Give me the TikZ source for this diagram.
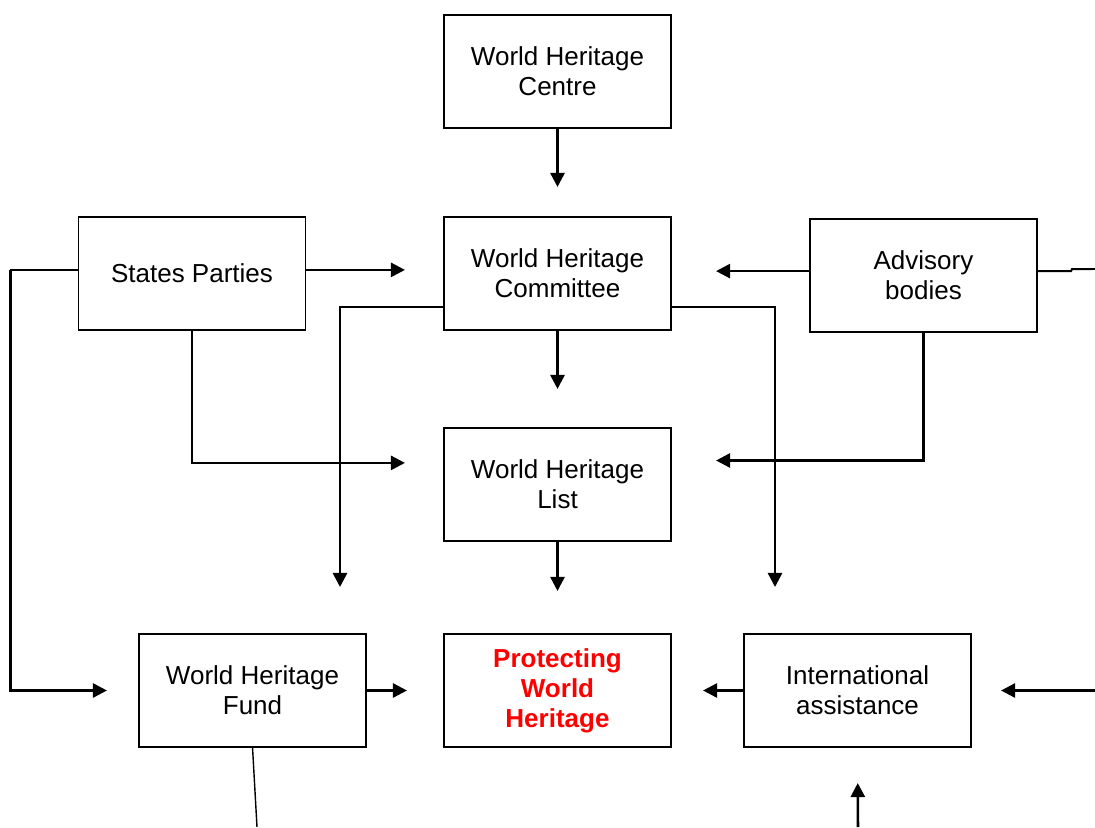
\documentclass[tikz,border=0pt]{standalone}
\usepackage{fontspec}
\setmainfont{Liberation Sans}
\usetikzlibrary{arrows.meta}
\begin{document}
\begin{tikzpicture}[x=0.025cm,y=-0.025cm,
    box/.style = {rectangle,draw=black,line width=1.3pt,minimum width=5.675cm,minimum height=2.825cm,align=center,outer sep=0mm,
                  font=\fontsize{18.5}{21.3}\selectfont},
    arr/.style = {line width=1.8pt,-{Triangle[length=10pt,width=10pt]}},
    link/.style = {line width=1.4pt}]
\useasboundingbox (0,0) rectangle (1095,827);
% boxes
\node[box] (centre) at (557.5, 71.5) {World Heritage\\Centre};
\node[box] (comm)   at (557.5,273.5) {World Heritage\\Committee};
\node[box] (sp)     at (192,  273.5) {States Parties};
\node[box] (adv)    at (923.5,275.5) {Advisory\\bodies};
\node[box] (list)   at (557.5,484.5) {World Heritage\\List};
\node[box] (fund)   at (252.5,690.5) {World Heritage\\Fund};
\node[box] (prot)   at (557.5,690.5) {\color{red}\bfseries Protecting\\\color{red}\bfseries World\\\color{red}\bfseries Heritage};
\node[box] (intl)   at (857.5,690.5) {International\\assistance};
% free ends
\coordinate (fundtip) at (340,587);
\coordinate (intltip) at (775,587);
\coordinate (redge)   at (1095,690.5);
\coordinate (aout)    at (1095,269);
\coordinate (fout)    at (257,827);
\coordinate (bin)     at (858,827);
% connectors
\draw[arr,shorten >=0.75cm]  (centre) -- (comm);
\draw[arr,shorten >=0.975cm] ([yshift=0.09cm]sp.east) -- ([yshift=0.09cm]comm.west);
\draw[arr,shorten >=1.125cm] ([yshift=0.11cm]adv.west) -- ([yshift=0.11cm]adv.west -| comm.east);
\draw[arr,shorten >=0.975cm] (comm) -- (list);
\draw[arr,shorten >=0.975cm] (sp.south) |- ([yshift=0.54cm]list.west);
\draw[arr,shorten >=1.125cm] (adv.south) |- ([yshift=0.6cm]list.east);
\draw[arr] ([yshift=0.575cm]comm.south west) -| (fundtip);
\draw[arr] ([yshift=0.575cm]comm.south east) -| (intltip);
\draw[arr,shorten >=1.075cm] (list) -- (prot);
\draw[link] ([yshift=0.09cm]sp.west) -- ++(-68,0) coordinate (lc);
\draw[arr,shorten >=0.8cm]   (lc) |- (fund.west);
\draw[arr,shorten >=0.925cm] (fund) -- (prot);
\draw[arr,shorten >=0.8cm]   (intl) -- (prot);
\draw[arr,shorten >=0.75cm]  (redge) -- (intl.east);
\draw[link] ([yshift=0.11cm]adv.east) -- ++(34,0) -- ++(1,-2) -- (aout);
\draw[line width=1pt] (fund.south) -- (fout);
\draw[arr,shorten >=0.9cm] (bin) -- (intl.south);
\end{tikzpicture}
\end{document}
